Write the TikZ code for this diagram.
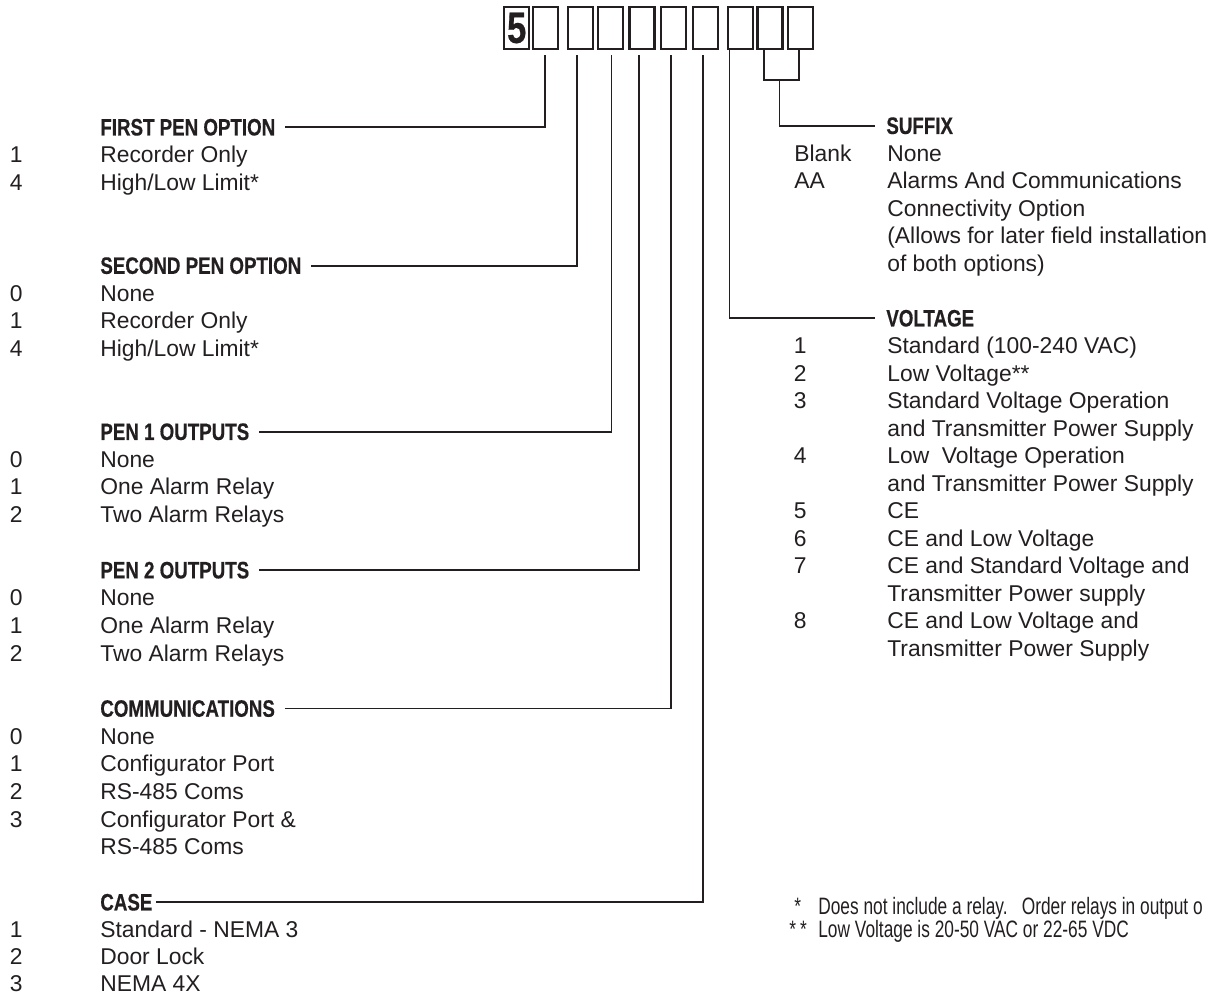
\documentclass[tikz,border=0pt]{standalone}
\usepackage{fontspec}
\setmainfont{Liberation Sans}
\newfontfamily\headfont[FakeStretch=0.79,FakeBold=0.5]{Liberation Sans}
\newfontfamily\notefont[FakeStretch=0.73]{Liberation Sans}
\usetikzlibrary{positioning}
\definecolor{ink}{RGB}{35,31,32}

\begin{document}
\begin{tikzpicture}[x=0.02cm, y=-0.02cm,
  digitbox/.style={draw=ink, line width=1.2pt, minimum width=0.5cm, minimum height=0.84cm, inner sep=0pt},
  grouphead/.style={anchor=base west, inner sep=0pt, yshift=-4.8pt, text=ink, font=\headfont\bfseries\fontsize{13.5}{15}\selectfont},
  optno/.style={anchor=base west, inner sep=0pt, yshift=-4.65pt, text=ink, font=\fontsize{13}{15}\selectfont},
  opttext/.style={optno},
  fnote/.style={optno, yshift=-0.2pt, font=\notefont\fontsize{13.5}{15}\selectfont},
  link/.style={draw=ink, line width=1pt}
]
\useasboundingbox (0,0) rectangle (1215,995);
\clip (0,0) rectangle (1215,995);

% model number boxes
\foreach \bx [count=\i] in {516.7,545.3,580.7,610.3,642,673.7,705.3,740.3,770,800.7}
  \node[digitbox] (b\i) at (\bx,28) {};
\node[text=ink, inner sep=0pt, font=\headfont\bfseries\fontsize{25}{25}\selectfont] (five) at (b1) {5};

% taps under the boxes
\coordinate (t1) at (545,55);
\coordinate (t2) at (577,55);
\coordinate (t3) at (611.5,55);
\coordinate (t4) at (639,55);
\coordinate (t5) at (671,55);
\coordinate (t6) at (703,55);
\coordinate (tv) at (729.5,50);
\coordinate (sa) at (764,50);
\coordinate (sb) at (799,50);
\coordinate (sm) at (779.5,80);

% first pen option
\node[grouphead] (first) at (100,127) {FIRST PEN OPTION};
\node[optno] (first1n) at (9.5,154.7) {1};
\node[opttext] (first1t) at (100,154.7) {Recorder Only};
\node[optno] (first4n) at (9.5,182.4) {4};
\node[opttext] (first4t) at (100,182.4) {High/Low Limit*};

% second pen option
\node[grouphead] (second) at (100,265.4) {SECOND PEN OPTION};
\node[optno] (second0n) at (9.5,293.1) {0};
\node[opttext] (second0t) at (100,293.1) {None};
\node[optno] (second1n) at (9.5,320.8) {1};
\node[opttext] (second1t) at (100,320.8) {Recorder Only};
\node[optno] (second4n) at (9.5,348.4) {4};
\node[opttext] (second4t) at (100,348.4) {High/Low Limit*};

% pen 1 outputs
\node[grouphead] (outa) at (100,431.5) {PEN 1 OUTPUTS};
\node[optno] (outa0n) at (9.5,459.2) {0};
\node[opttext] (outa0t) at (100,459.2) {None};
\node[optno] (outa1n) at (9.5,486.8) {1};
\node[opttext] (outa1t) at (100,486.8) {One Alarm Relay};
\node[optno] (outa2n) at (9.5,514.5) {2};
\node[opttext] (outa2t) at (100,514.5) {Two Alarm Relays};

% pen 2 outputs
\node[grouphead] (outb) at (100,569.9) {PEN 2 OUTPUTS};
\node[optno] (outb0n) at (9.5,597.6) {0};
\node[opttext] (outb0t) at (100,597.6) {None};
\node[optno] (outb1n) at (9.5,625.2) {1};
\node[opttext] (outb1t) at (100,625.2) {One Alarm Relay};
\node[optno] (outb2n) at (9.5,652.9) {2};
\node[opttext] (outb2t) at (100,652.9) {Two Alarm Relays};

% communications
\node[grouphead] (comm) at (100,708.3) {COMMUNICATIONS};
\node[optno] (comm0n) at (9.5,736) {0};
\node[opttext] (comm0t) at (100,736) {None};
\node[optno] (comm1n) at (9.5,763.6) {1};
\node[opttext] (comm1t) at (100,763.6) {Configurator Port};
\node[optno] (comm2n) at (9.5,791.3) {2};
\node[opttext] (comm2t) at (100,791.3) {RS-485 Coms};
\node[optno] (comm3n) at (9.5,819) {3};
\node[opttext] (comm3t) at (100,819) {Configurator Port \&};
\node[opttext] (comm3u) at (100,846.7) {RS-485 Coms};

% case
\node[grouphead] (case) at (100,902) {CASE};
\node[optno] (case1n) at (9.5,929) {1};
\node[opttext] (case1t) at (100,929) {Standard - NEMA 3};
\node[optno] (case2n) at (9.5,956) {2};
\node[opttext] (case2t) at (100,956) {Door Lock};
\node[optno] (case3n) at (9.5,983) {3};
\node[opttext] (case3t) at (100,983) {NEMA 4X};

% suffix
\node[grouphead] (suffix) at (886,125.5) {SUFFIX};
\node[optno] (sufbn) at (794,153) {Blank};
\node[opttext] (sufbt) at (887,153) {None};
\node[optno] (sufan) at (794,180.5) {AA};
\node[opttext] (sufat) at (887,180.5) {Alarms And Communications};
\node[opttext] (sufau) at (887,208) {Connectivity Option};
\node[opttext] (sufav) at (887,235.5) {(Allows for later field installation};
\node[opttext] (sufaw) at (887,263) {of both options)};

% voltage
\node[grouphead] (volt) at (886,318) {VOLTAGE};
\node[optno] (volt1n) at (793.5,345.5) {1};
\node[opttext] (volt1t) at (887,345.5) {Standard (100-240 VAC)};
\node[optno] (volt2n) at (793.5,373) {2};
\node[opttext] (volt2t) at (887,373) {Low Voltage**};
\node[optno] (volt3n) at (793.5,400.5) {3};
\node[opttext] (volt3t) at (887,400.5) {Standard Voltage Operation};
\node[opttext] (volt3u) at (887,428) {and Transmitter Power Supply};
\node[optno] (volt4n) at (793.5,455.5) {4};
\node[opttext] (volt4t) at (887,455.5) {Low\ \ Voltage Operation};
\node[opttext] (volt4u) at (887,483) {and Transmitter Power Supply};
\node[optno] (volt5n) at (793.5,510.5) {5};
\node[opttext] (volt5t) at (887,510.5) {CE};
\node[optno] (volt6n) at (793.5,538) {6};
\node[opttext] (volt6t) at (887,538) {CE and Low Voltage};
\node[optno] (volt7n) at (793.5,565.5) {7};
\node[opttext] (volt7t) at (887,565.5) {CE and Standard Voltage and};
\node[opttext] (volt7u) at (887,593) {Transmitter Power supply};
\node[optno] (volt8n) at (793.5,620.5) {8};
\node[opttext] (volt8t) at (887,620.5) {CE and Low Voltage and};
\node[opttext] (volt8u) at (887,648) {Transmitter Power Supply};

% footnotes
\node[fnote] (star1) at (794,906) {*};
\node[fnote] (note1) at (818,906) {Does not include a relay.\hspace{0.6em}Order relays in output o};
\node[fnote] (star2) at (789,929) {*\,*};
\node[fnote] (note2) at (818,929) {Low Voltage is 20-50 VAC or 22-65 VDC};

% connectors
\draw[link] ([xshift=5.5pt]first.east) -| (t1);
\draw[link] ([xshift=5.5pt]second.east) -| (t2);
\draw[link] ([xshift=5.5pt]outa.east) -| (t3);
\draw[link] ([xshift=5.5pt]outb.east) -| (t4);
\draw[link] ([xshift=5.5pt]comm.east) -| (t5);
\draw[link] ([xshift=2pt]case.east) -| (t6);
\draw[link] (sa) |- (sm) -| (sb);
\draw[link] (sm) |- ([xshift=-6pt]suffix.west);
\draw[link] (tv) |- ([xshift=-6pt]volt.west);
\end{tikzpicture}
\end{document}
